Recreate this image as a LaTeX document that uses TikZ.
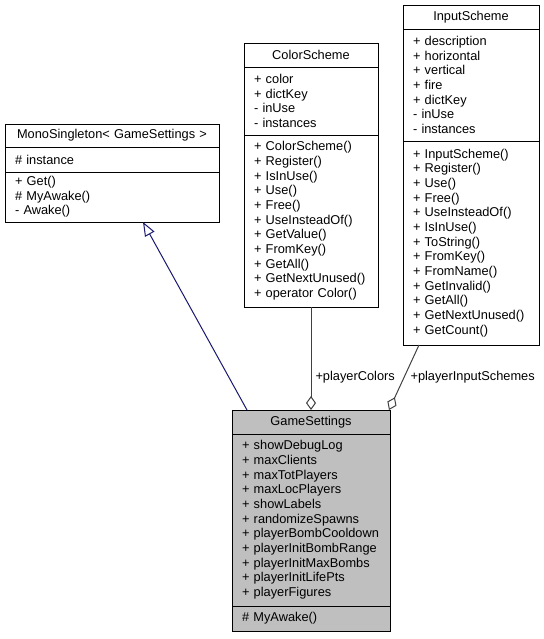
\documentclass[tikz,border=0pt]{standalone}
\usepackage{fontspec}
\setmainfont{Liberation Sans}
\usetikzlibrary{positioning,arrows.meta}
\definecolor{edgeblue}{HTML}{191970}
\definecolor{edgegray}{HTML}{404040}
\definecolor{classgray}{HTML}{BFBFBF}
\newcommand{\umlfont}{\fontsize{9.6}{11}\selectfont\hyphenpenalty=10000\relax\hbadness=10000\relax}

\begin{document}
\begin{tikzpicture}[x=0.75pt, y=-0.75pt, line width=0.75pt,
    classpart/.style={draw=black, fill=white, outer sep=0pt, inner xsep=7.5pt, inner ysep=0pt,
      align=left, font=\umlfont},
    classname/.style={classpart, align=center},
    inherit/.style={draw=edgeblue, -{Triangle[open, length=10.5pt, width=8pt]}},
    aggregate/.style={draw=edgegray, -{Diamond[open, length=10.5pt, width=7.5pt]}},
    rolename/.style={anchor=west, inner sep=0pt, font=\umlfont}]
  % fix the page to the size of the picture
  \useasboundingbox (0,0) rectangle (543,639);

  % define base class, its name on top and its members below it
  \node [classname, text width=145.5pt, minimum height=17.25pt, anchor=north west] (ms) at (5,124)
    {MonoSingleton< GameSettings >};
  \node [classpart, text width=145.5pt, minimum height=18.75pt, below=0pt of ms] (ms-a)
    {\# instance};
  \node [classpart, text width=145.5pt, minimum height=37.5pt, below=0pt of ms-a] (ms-m)
    {+ Get()\\\# MyAwake()\\- Awake()};

  % define the colour scheme class
  \node [classname, text width=85.5pt, minimum height=18pt, anchor=north west] (cs) at (244,43)
    {ColorScheme};
  \node [classpart, text width=85.5pt, minimum height=51pt, below=0pt of cs] (cs-a)
    {+ color\\+ dictKey\\- inUse\\- instances};
  \node [classpart, text width=85.5pt, minimum height=129pt, below=0pt of cs-a] (cs-m)
    {+ ColorScheme()\\+ Register()\\+ IsInUse()\\+ Use()\\+ Free()\\+ UseInsteadOf()\\
     + GetValue()\\+ FromKey()\\+ GetAll()\\+ GetNextUnused()\\+ operator Color()};

  % define the input scheme class
  \node [classname, text width=87pt, minimum height=18pt, anchor=north west] (is) at (403,5)
    {InputScheme};
  \node [classpart, text width=87pt, minimum height=84pt, below=0pt of is] (is-a)
    {+ description\\+ horizontal\\+ vertical\\+ fire\\+ dictKey\\- inUse\\- instances};
  \node [classpart, text width=87pt, minimum height=153pt, below=0pt of is-a] (is-m)
    {+ InputScheme()\\+ Register()\\+ Use()\\+ Free()\\+ UseInsteadOf()\\+ IsInUse()\\
     + ToString()\\+ FromKey()\\+ FromName()\\+ GetInvalid()\\+ GetAll()\\
     + GetNextUnused()\\+ GetCount()};

  % define the settings class, drawn shaded
  \node [classname, fill=classgray, text width=103.5pt, minimum height=18pt, anchor=north west] (gs) at (232,410)
    {GameSettings};
  \node [classpart, fill=classgray, text width=103.5pt, minimum height=129pt, below=0pt of gs] (gs-a)
    {+ showDebugLog\\+ maxClients\\+ maxTotPlayers\\+ maxLocPlayers\\+ showLabels\\
     + randomizeSpawns\\+ playerBombCooldown\\+ playerInitBombRange\\+ playerInitMaxBombs\\
     + playerInitLifePts\\+ playerFigures};
  \node [classpart, fill=classgray, text width=103.5pt, minimum height=18.75pt, below=0pt of gs-a] (gs-m)
    {\# MyAwake()};

  % inheritance and the two aggregations with their role names
  \draw [inherit] ([xshift=11.25pt]gs.north west) -- ([xshift=103.5pt]ms-m.south west);
  \draw [aggregate] (cs-m.south) -- node [rolename, pos=0.68, xshift=3pt] (colors) {+playerColors} (gs.north);
  \draw [aggregate] ([xshift=12pt]is-m.south west) -- node [rolename, pos=0.49, xshift=4.3pt] (inputs) {+playerInputSchemes}
    ([xshift=-0.75pt]gs.north east);
\end{tikzpicture}
\end{document}
